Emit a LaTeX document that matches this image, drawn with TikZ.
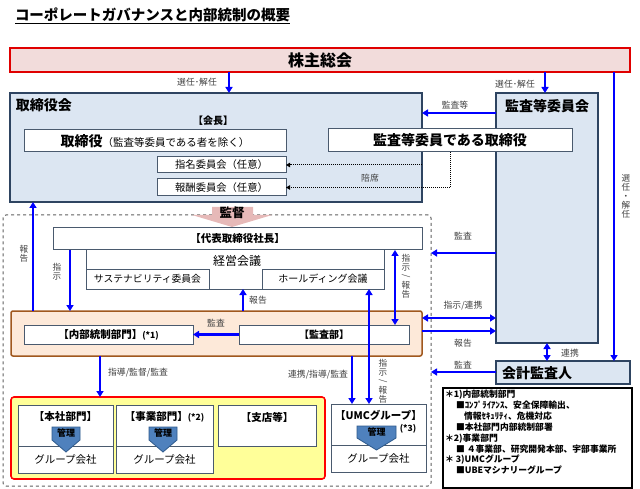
\documentclass[tikz,border=0pt]{standalone}
\usepackage{fontspec}
\usepackage{graphicx}
\setmainfont{Noto Sans CJK JP}
\usetikzlibrary{arrows.meta,calc}
\definecolor{shpink}{HTML}{F2DCDB}
\definecolor{shred}{HTML}{E00000}
\definecolor{lblue}{HTML}{DCE6F2}
\definecolor{navyline}{HTML}{2E4461}
\definecolor{boxline}{HTML}{4A5A6E}
\definecolor{peach}{HTML}{FDE9D9}
\definecolor{brownline}{HTML}{A0581E}
\definecolor{yel}{HTML}{FFFF99}
\definecolor{kanrifill}{HTML}{4F81BD}
\definecolor{kanriline}{HTML}{2E5A8C}
\definecolor{kantokufill}{HTML}{E6B9B8}
\definecolor{arrowblue}{HTML}{0000FF}
\definecolor{labelgray}{HTML}{404040}
\definecolor{dashgray}{HTML}{606060}
\newcommand\fsz[1]{\fontsize{#1}{#1}\selectfont}
\newcommand\vsl{\rotatebox[origin=c]{-90}{/}}
\begin{document}
\begin{tikzpicture}[x=1pt,y=-1pt,
  every node/.style={inner sep=0pt, outer sep=0pt},
  bluebox/.style={draw=navyline, fill=lblue, line width=1.3pt, rectangle},
  wbox/.style={draw=boxline, fill=white, line width=1pt, rectangle},
  barrow/.style={draw=arrowblue, line width=2.2pt, -{Triangle[length=6pt,width=7pt]}},
  bdarrow/.style={barrow, {Triangle[length=6pt,width=7pt]}-{Triangle[length=6pt,width=7pt]}},
  dotline/.style={draw=black, line width=1pt, dash pattern=on 1pt off 1pt, -{Triangle[length=4pt,width=4.5pt]}},
  lbl/.style={text=labelgray, font=\fsz{8.8}},
  vlbl/.style={text=labelgray, align=center, font=\fontsize{8.6}{9}\selectfont},
  kanri/.style={fill=kanrifill, draw=kanriline, line width=0.8pt},
  kanritxt/.style={font=\bfseries\fsz{9}}
]
\useasboundingbox (0,0) rectangle (640,489);

% title
\node[anchor=west, font=\bfseries\fsz{14.5}] (title) at (15,16) {\underline{コーポレートガバナンスと内部統制の概要}};

% shareholders
\node[fill=shpink, draw=shred, line width=1.5pt, minimum width=620pt, minimum height=24pt, font=\bfseries\fsz{16}] (sh) at (320,60) {株主総会};

% board of directors
\node[bluebox, minimum width=412pt, minimum height=109pt] (board) at (216,147.5) {};
\node[anchor=west, font=\bfseries\fsz{14}] (boardlbl) at (16,105) {取締役会};
\node[font=\bfseries\fsz{10}] (chair) at (213,121) {【会長】};
\node[wbox, minimum width=262pt, minimum height=22pt] (dirs) at (155,141) {{\bfseries\fsz{14}取締役}{\fsz{10.5}（監査等委員である者を除く）}};
\node[wbox, minimum width=129pt, minimum height=16pt, font=\fsz{10.3}] (nom) at (221.5,165) {指名委員会（任意）};
\node[wbox, minimum width=129pt, minimum height=17pt, font=\fsz{10.3}] (rem) at (221.5,187.5) {報酬委員会（任意）};

% audit committee
\node[bluebox, minimum width=102pt, minimum height=250pt] (ac) at (547,218) {};
\node[font=\bfseries\fsz{14}] (aclbl) at (547,106) {監査等委員会};
\node[wbox, minimum width=244pt, minimum height=23pt, font=\bfseries\fsz{14}] (acd) at (450,140.5) {監査等委員である取締役};

% dotted connectors
\coordinate (dotstart) at (board.east |- nom.east);
\draw[dotline] (acd.south) |- (rem.east);
\draw[dotline] (dotstart) -- (nom.east);
\node[lbl] (l5) at (370,178) {陪席};

% dashed group region
\node[draw=dashgray, dashed, line width=1pt, rounded corners=3pt, minimum width=428pt, minimum height=271pt] (grp) at (217,350.5) {};

% kantoku arrow
\path[fill=kantokufill] (212,207) -- (253,207) -- (253,215) -- (272,215) -- (232,227) -- (192,215) -- (212,215) -- cycle;
\node[font=\bfseries\fsz{12.5}] (kantoku) at (232,213) {監督};

% president and management
\node[wbox, minimum width=298pt, minimum height=39pt] (mgmt) at (235,269.5) {};
\node[wbox, minimum width=369pt, minimum height=22pt, font=\bfseries\fsz{10.5}] (pres) at (237.5,239) {【代表取締役社長】};
\node[font=\fsz{12}] (mgmtlbl) at (237,260.5) {経営会議};
\node[wbox, minimum width=123pt, minimum height=20pt, font=\fsz{9.8}] (sus) at (147.5,279) {サステナビリティ委員会};
\node[wbox, minimum width=122pt, minimum height=20pt, font=\fsz{10}] (hold) at (323,279) {ホールディング会議};

% orange audit band
\node[fill=peach, draw=brownline, line width=1.5pt, rounded corners=2pt, minimum width=411pt, minimum height=45pt] (orng) at (216.5,333.5) {};
\node[wbox, minimum width=169pt, minimum height=19pt] (icd) at (108.5,334.5) {{\bfseries\fsz{10.5}【内部統制部門】}{\bfseries\fsz{8.5}(*1)}};
\node[wbox, minimum width=170pt, minimum height=19pt, font=\bfseries\fsz{10}] (aud) at (324,334.5) {【監査部】};

% yellow group
\node[fill=yel, draw=red, line width=1.6pt, rounded corners=3pt, minimum width=314pt, minimum height=82pt] (yelbox) at (168,438) {};
\node[wbox, minimum width=95pt, minimum height=41pt] (hon) at (65.5,425.5) {};
\node[wbox, minimum width=95pt, minimum height=27pt, font=\fsz{10.5}] (hongc) at (65.5,459.5) {グループ会社};
\node[font=\bfseries\fsz{10.5}] (honlbl) at (65.5,417) {【本社部門】};
\node[wbox, minimum width=97pt, minimum height=41pt] (jig) at (164.5,425.5) {};
\node[wbox, minimum width=97pt, minimum height=27pt, font=\fsz{10.5}] (jiggc) at (164.5,459.5) {グループ会社};
\node[] (jiglbl) at (164.5,417) {{\bfseries\fsz{10.5}【事業部門】}{\bfseries\fsz{8.5}(*2)}};
\node[wbox, minimum width=98pt, minimum height=41pt] (shi) at (267,425.5) {};
\node[font=\bfseries\fsz{10.5}] (shilbl) at (267,417) {【支店等】};

% UMC group
\node[wbox, minimum width=95pt, minimum height=41pt] (umc) at (378.5,424.5) {};
\node[wbox, minimum width=95pt, minimum height=27pt, font=\fsz{10.5}] (umcgc) at (378.5,458.5) {グループ会社};
\node[font=\bfseries\fsz{10.5}] (umclbl) at (378.5,415) {【UMCグループ】};
\node[font=\bfseries\fsz{8.5}] (umcnote) at (408,429) {(*3)};

% kanri pentagons
\path[kanri] (52,427) -- (80,427) -- (80,440) -- (66,452) -- (52,440) -- cycle;
\node[kanritxt] (k1) at (66,433) {管理};
\path[kanri] (149,427) -- (177,427) -- (177,440) -- (163,452) -- (149,440) -- cycle;
\node[kanritxt] (k2) at (163,433) {管理};
\path[kanri] (357,426) -- (396,426) -- (396,438) -- (376.5,450) -- (357,438) -- cycle;
\node[kanritxt] (k3) at (376.5,432) {管理};

% accounting auditor
\node[bluebox, minimum width=134pt, minimum height=23pt] (acc) at (563,372.5) {};
\node[anchor=west, font=\bfseries\fsz{14}] (acclbl) at (502,373) {会計監査人};

% notes
\node[draw=black, line width=1.2pt, fill=white, minimum width=189pt, minimum height=100pt] (notes) at (537.5,438) {};
\node[anchor=north west, align=left, font=\bfseries\fontsize{8.8}{10.9}\selectfont] (notestxt) at (445,390) {＊1)内部統制部門\\
\hspace*{11pt}■ｺﾝﾌﾟﾗｲｱﾝｽ、安全保障輸出、\\
\hspace*{19pt}情報ｾｷｭﾘﾃｨ、危機対応\\
\hspace*{11pt}■本社部門内部統制部署\\
＊2)事業部門\\
\hspace*{11pt}■ ４事業部、研究開発本部、宇部事業所\\
＊ 3)UMCグループ\\
\hspace*{11pt}■UBEマシナリーグループ};

% blue arrows
\draw[barrow] (229,0 |- sh.south) -- (229,0 |- board.north);
\node[lbl] (l1) at (197,82) {選任･解任};
\draw[barrow] (545,0 |- sh.south) -- (545,0 |- ac.north);
\node[lbl] (l2) at (515,84) {選任･解任};
\draw[barrow] (614,0 |- sh.south) -- (614,0 |- acc.north);
\node[vlbl] (l3) at (626,196) {選\\任\\・\\解\\任};
\draw[barrow] (ac.west |- 0,113) -- (board.east |- 0,113);
\node[lbl] (l4) at (455,105) {監査等};
\draw[barrow] (ac.west |- 0,253) -- (grp.east |- 0,253);
\node[lbl] (l6) at (463,236) {監査};
\draw[bdarrow] (orng.east |- 0,318) -- (ac.west |- 0,318);
\node[lbl] (l7) at (463,306) {指示/連携};
\draw[barrow] (orng.east |- 0,331) -- (ac.west |- 0,331);
\node[lbl] (l8) at (463,343) {報告};
\draw[bdarrow] (547,0 |- ac.south) -- (547,0 |- acc.north);
\node[lbl] (l9) at (570,353) {連携};
\draw[barrow] (acc.west |- 0,372) -- (grp.east |- 0,372);
\node[lbl] (l10) at (463,365) {監査};
\draw[barrow] (33,0 |- orng.north) -- (33,0 |- board.south);
\node[vlbl] (l11) at (24,254) {報\\告};
\draw[barrow] (70,0 |- pres.south) -- (70,0 |- orng.north);
\node[vlbl] (l12) at (57,272) {指\\示};
\draw[barrow] (243,0 |- orng.north) -- (243,0 |- mgmt.south);
\node[lbl] (l13) at (258,300) {報告};
\draw[barrow] (aud.west) -- (icd.east);
\node[lbl] (l14) at (216,323) {監査};
\draw[bdarrow] (395,0 |- pres.south) -- (395,0 |- aud.north);
\node[vlbl] (l15) at (406,276) {指\\示\\\vsl\\報\\告};
\draw[bdarrow] (369,0 |- hold.south) -- (369,0 |- umc.north);
\node[vlbl] (l16) at (383,381) {指\\示\\\vsl\\報\\告};
\draw[barrow] (352,0 |- orng.south) -- (352,0 |- umc.north);
\node[lbl] (l17) at (318,375) {連携/指導/監査};
\draw[barrow] (100,0 |- orng.south) -- (100,0 |- yelbox.north);
\node[lbl] (l18) at (138,373) {指導/監督/監査};
\end{tikzpicture}
\end{document}
